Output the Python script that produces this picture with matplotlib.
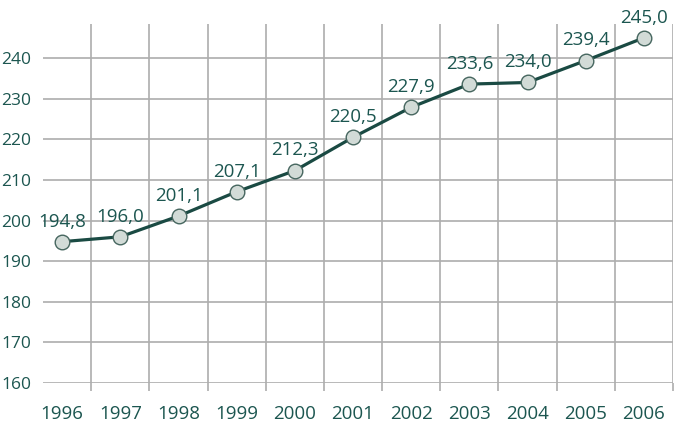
import matplotlib.pyplot as plt
from matplotlib.ticker import FixedLocator

years = ["1996", "1997", "1998", "1999", "2000", "2001",
         "2002", "2003", "2004", "2005", "2006"]
values = [194.8, 196.0, 201.1, 207.1, 212.3, 220.5,
          227.9, 233.6, 234.0, 239.4, 245.0]
y_ticks = [160, 170, 180, 190, 200, 210, 220, 230, 240]

text_color = "#1c5650"
line_color = "#1a4a43"
grid_color = "#adadad"

plt.rcParams['font.family'] = ['Open Sans', 'DejaVu Sans']

fig = plt.figure(figsize=(6.77, 4.24), dpi=100)
ax = fig.add_axes([43 / 677, 1 - 383 / 424, 630 / 677, 359 / 424])

x = list(range(len(years)))
ax.plot(x, values, color=line_color, linewidth=2.3, zorder=3,
        marker="o", markersize=10.5, markerfacecolor="#d2dbd7",
        markeredgecolor="#46665f", markeredgewidth=1.0)

for xi, v in zip(x, values):
    ax.annotate(f"{v:.1f}".replace(".", ","), (xi, v), xytext=(0, 8),
                textcoords="offset points", ha="center", va="bottom",
                fontsize=13.5, color=text_color, zorder=4)

ax.set_xlim(-0.33, 10.5)
ax.set_ylim(160, 248.4)

# vertical lines between years, extending below as ticks
ax.xaxis.set_major_locator(FixedLocator([i + 0.5 for i in range(len(years))]))
ax.xaxis.set_minor_locator(FixedLocator(x))
ax.set_xticklabels([], minor=False)
ax.set_xticklabels(years, minor=True)
ax.tick_params(axis="x", which="major", length=6, width=1.2, color=grid_color)
ax.tick_params(axis="x", which="minor", length=0, pad=16, labelsize=13.5,
               labelcolor=text_color)
ax.grid(True, axis="x", which="major", color=grid_color, linewidth=1.2)

ax.set_yticks(y_ticks)
ax.tick_params(axis="y", length=0, pad=8.5, labelsize=12.5, labelcolor=text_color)
ax.grid(True, axis="y", color=grid_color, linewidth=1.2)
ax.set_axisbelow(True)

for s in ax.spines.values():
    s.set_visible(False)

fig.savefig("out.png", dpi=100)
